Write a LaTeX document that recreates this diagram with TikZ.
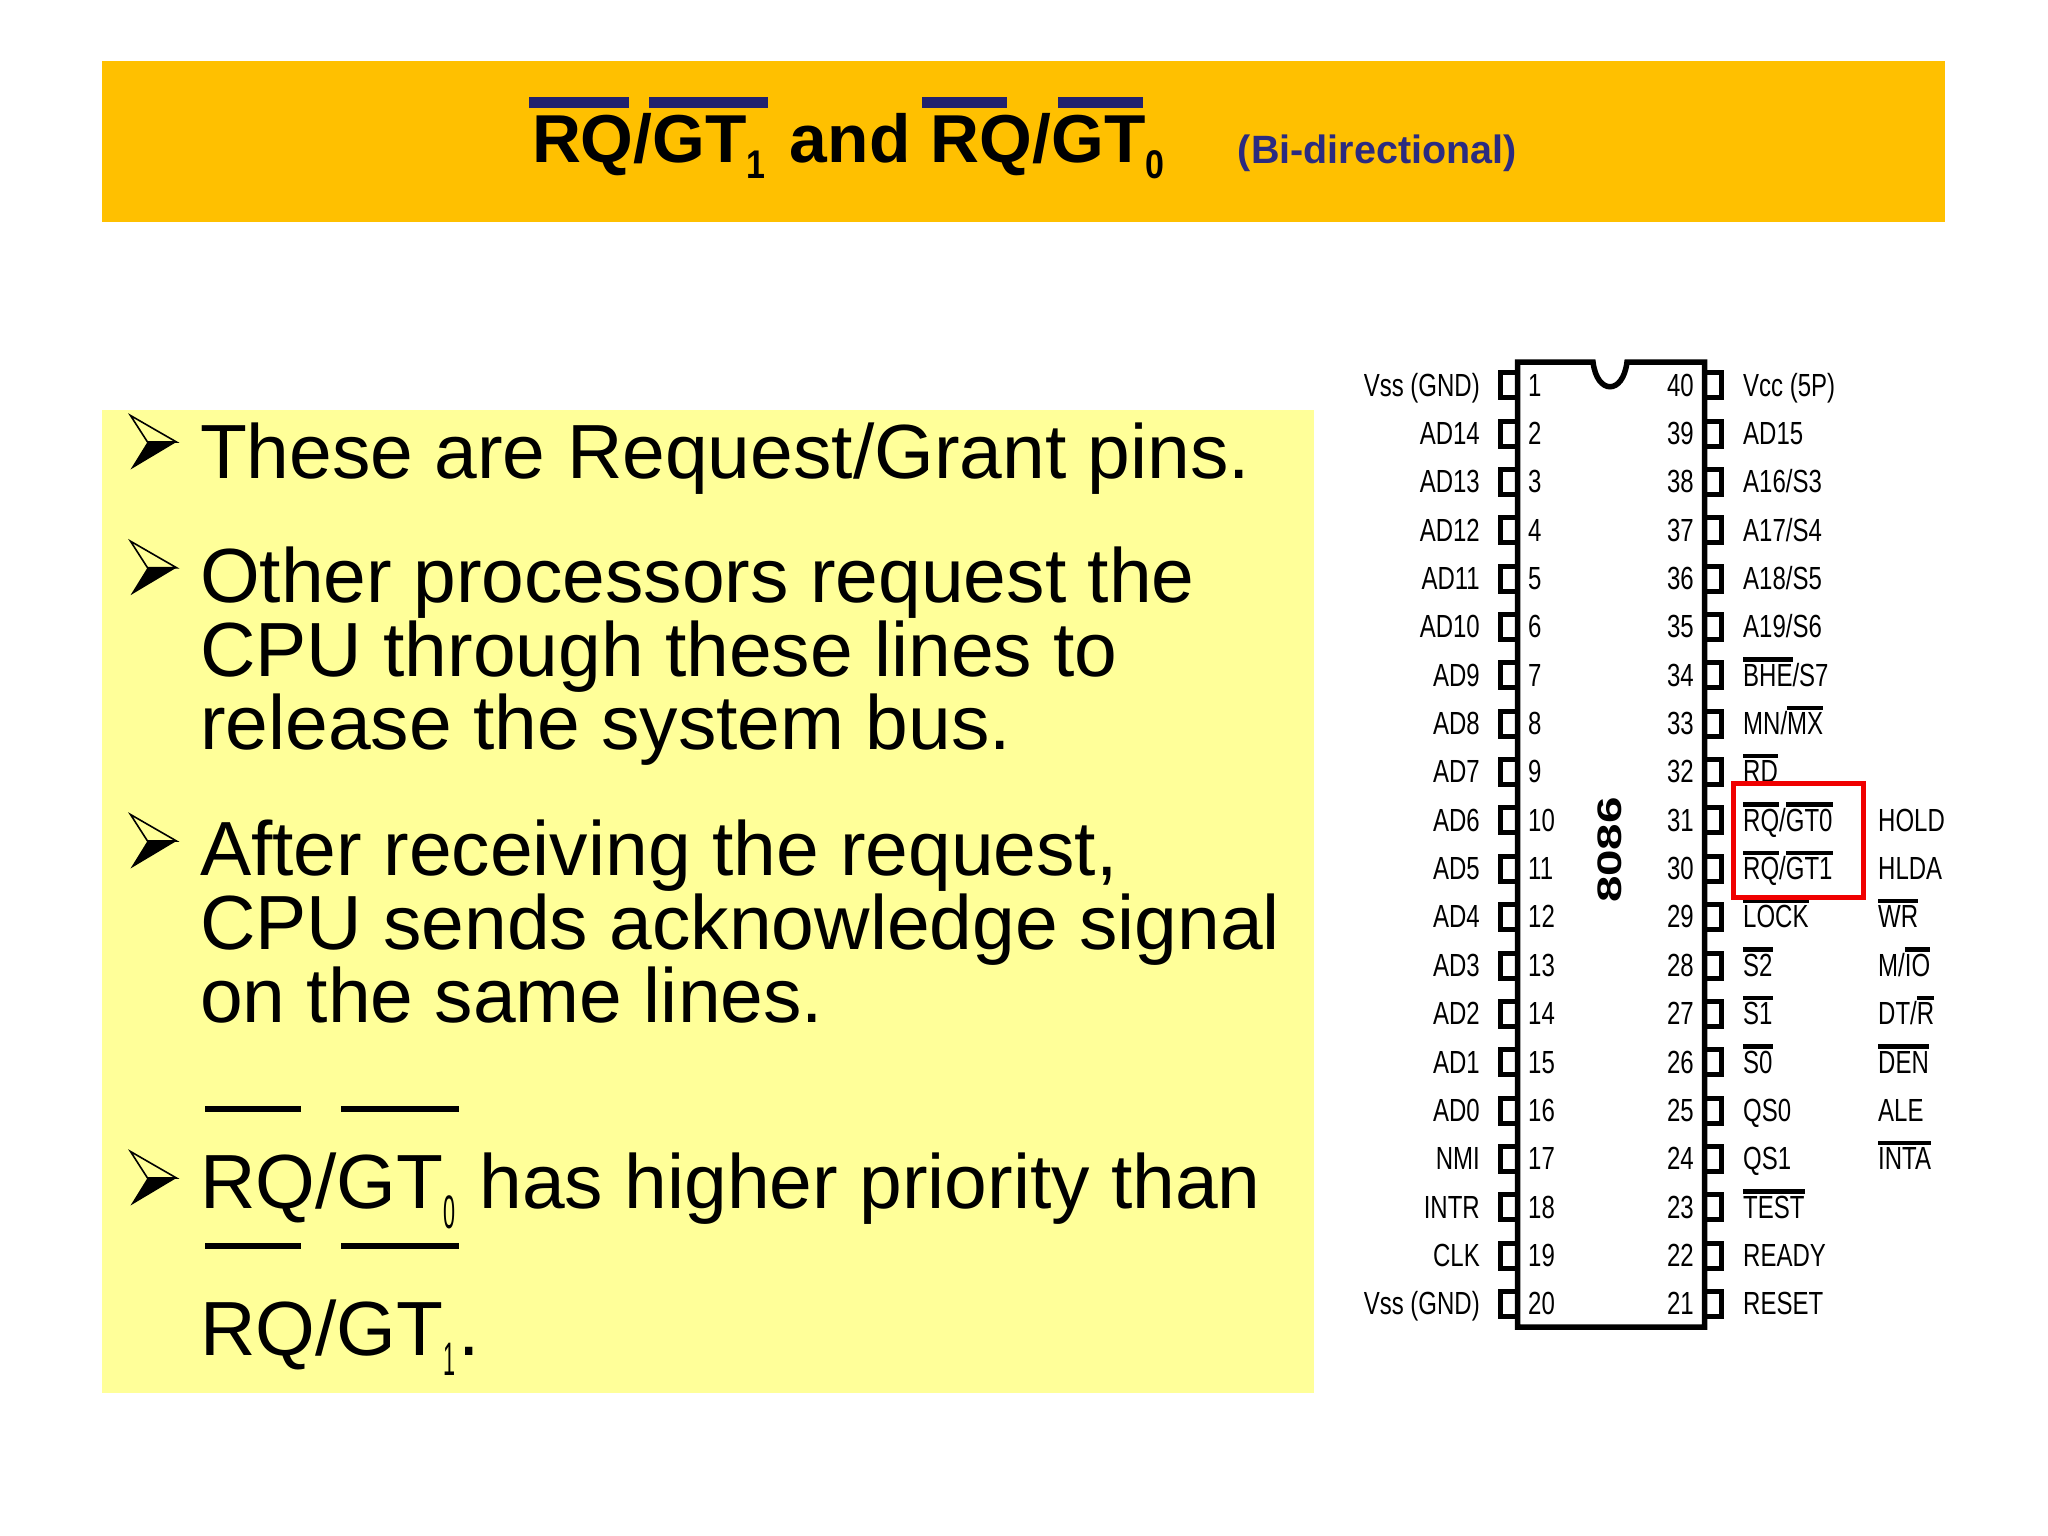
\documentclass[tikz,border=0pt]{standalone}
\usepackage{fontspec}
\setmainfont{Liberation Sans}
\newfontfamily\pinfont[FakeStretch=0.75]{Liberation Sans}
\newfontfamily\subthin[FakeStretch=0.46]{Liberation Sans}
\newfontfamily\subbold[FakeStretch=0.85]{Liberation Sans}
\newfontfamily\chipfont[FakeStretch=1.4]{Liberation Sans}
\definecolor{headbg}{HTML}{FFC000}
\definecolor{bodybg}{HTML}{FFFF99}
\definecolor{navybar}{HTML}{22226E}
\definecolor{navytext}{HTML}{2B2B80}
\definecolor{redbox}{HTML}{F00000}
\newcommand{\ob}[1]{\setbox0\hbox{#1}\rlap{\raisebox{24.5pt}{\rule{\wd0}{4.5pt}}}\box0 }
\newcommand{\pxfont}[1]{\fontsize{#1}{#1}\selectfont}
\newcommand{\subz}[1]{\raisebox{-20pt}{\pxfont{47}\subthin #1}\hspace{3pt}}
\newcommand{\subh}[1]{\raisebox{-16pt}{\pxfont{40}\subbold\bfseries #1}}
\tikzset{
  x=1pt,y=-1pt,
  txt/.style={inner sep=0pt,outer sep=0pt,anchor=base west},
  bodyline/.style={txt,font=\pxfont{76.8}},
  labr/.style={inner sep=0pt,anchor=base east,font=\pxfont{32}\pinfont},
  labl/.style={inner sep=0pt,anchor=base west,font=\pxfont{32}\pinfont},
  pinbox/.style={draw=black,line width=5pt,fill=white,minimum width=17pt,minimum height=25pt,inner sep=0pt,outer sep=0pt},
  barfill/.style={fill=navybar},
  bodybar/.style={fill=black},
  pics/bul/.style={code={
    \draw[black,line width=1.6pt,line join=miter,fill=bodybg] (-46,-26.5) -- (0,0) -- (-29,0) -- cycle;
    \fill[black] (-46,27.5) -- (0,0) -- (-29,0) -- cycle;
  }}
}
\begin{document}
\begin{tikzpicture}
\useasboundingbox (0,0) rectangle (2048,1536);
\fill[white] (0,0) rectangle (2048,1536);
\fill[headbg] (102,61) rectangle (1945,222);
\fill[bodybg] (102,410) rectangle (1314,1393);
% title
\node[txt,font=\pxfont{67.8}\bfseries] (title) at (532,163) {RQ/GT\subh{1} \hspace{5.5pt}and\hspace{1.5pt} RQ/GT\subh{0}\hspace{73.5pt}\raisebox{-1pt}{\textcolor{navytext}{\pxfont{39.5}(Bi-directional)}}};
\foreach \a/\b in {529/629,649/768,922/1007,1058/1143}{
  \fill[barfill] (\a,97) rectangle (\b,108);
}
% body
\node[bodyline] (b1) at (200,478) {These are Request/Grant pins.};
\node[bodyline] (b2) at (200,602.5) {Other processors request the};
\node[bodyline] (b3) at (200,676.5) {CPU through these lines to};
\node[bodyline] (b4) at (200,749.5) {release the system bus.};
\node[bodyline] (b5) at (200,875.5) {After receiving the request,};
\node[bodyline] (b6) at (200,949.5) {CPU sends acknowledge signal};
\node[bodyline] (b7) at (200,1022.5) {on the same lines.};
\node[bodyline] (b8) at (200,1208) {RQ/GT\subz{0} has higher priority than};
\node[bodyline] (b9) at (200,1355) {RQ/GT\subz{1}.};
\foreach \a/\b/\y in {205/301/1109,341/458.5/1109,205/301/1246,341/458.5/1246}{
  \fill[bodybar] (\a,\y-3) rectangle (\b,\y+3);
}
\pic at (176.5,442) {bul};
\pic at (176.5,567.7) {bul};
\pic at (176.5,841) {bul};
\pic at (176.5,1178) {bul};
% pins
\foreach \n/\t in {1/{Vss (GND)},2/AD14,3/AD13,4/AD12,5/AD11,6/AD10,7/AD9,8/AD8,9/AD7,10/AD6,11/AD5,12/AD4,13/AD3,14/AD2,15/AD1,16/AD0,17/NMI,18/INTR,19/CLK,20/{Vss (GND)}}{
  \pgfmathsetmacro{\yy}{385.3+48.35*(\n-1)}
  \node[pinbox] (pinL\n) at (1509,\yy) {};
  \node[labr] (labL\n) at (1480,\yy+10.8) {\t};
  \node[labl] (numL\n) at (1528,\yy+10.8) {\n};
}
\foreach \r/\n/\t in {1/40/{Vcc (5P)},2/39/AD15,3/38/{A16/S3},4/37/{A17/S4},5/36/{A18/S5},6/35/{A19/S6},7/34/{\ob{BHE}/S7},8/33/{MN/\ob{MX}},9/32/{\ob{RD}},10/31/{\ob{RQ}/\ob{GT0}},11/30/{\ob{RQ}/\ob{GT1}},12/29/{\ob{LOCK}},13/28/{\ob{S2}},14/27/{\ob{S1}},15/26/{\ob{S0}},16/25/QS0,17/24/QS1,18/23/{\ob{TEST}},19/22/READY,20/21/RESET}{
  \pgfmathsetmacro{\yy}{385.3+48.35*(\r-1)}
  \node[pinbox] (pinR\n) at (1713,\yy) {};
  \node[labr,anchor=base east] (numR\n) at (1694,\yy+10.8) {\n};
  \node[labl] (labR\n) at (1743,\yy+10.8) {\t};
}
\foreach \r/\t in {10/HOLD,11/HLDA,12/{\ob{WR}},13/{M/\ob{IO}},14/{DT/\ob{R}},15/{\ob{DEN}},16/ALE,17/{\ob{INTA}}}{
  \pgfmathsetmacro{\yy}{385.3+48.35*(\r-1)}
  \node[labl] (labF\r) at (1878,\yy+10.8) {\t};
}
% chip
\draw[black,line width=5.5pt,line join=miter] (1517.5,362) -- (1593,362) .. controls (1597,395) and (1623,395) .. (1627,362) -- (1704.5,362) -- (1704.5,1327) -- (1517.5,1327) -- cycle;
\node[inner sep=0pt,rotate=90,font=\pxfont{34}\chipfont\bfseries] (chip) at (1610,850) {8086};
% red box
\draw[redbox,line width=5pt] (1733.5,783.5) rectangle (1863,897.5);
\end{tikzpicture}
\end{document}
